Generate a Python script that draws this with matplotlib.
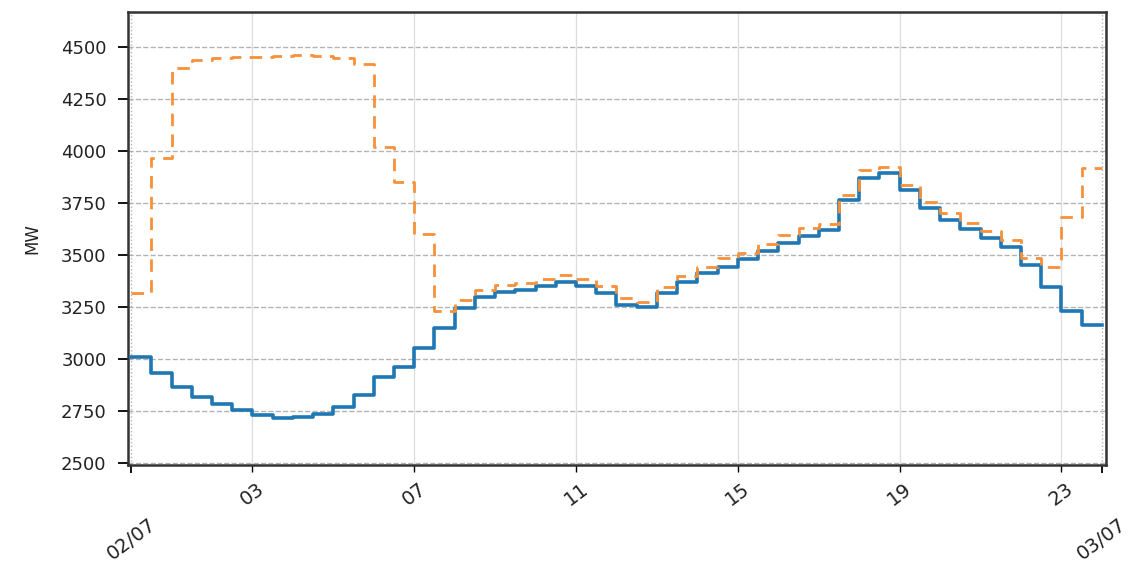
import numpy as np
import matplotlib
matplotlib.use("Agg")
import matplotlib.pyplot as plt
import matplotlib.dates as mdates
from datetime import datetime, timedelta

# Half-hourly load, 02/07 00:00 -> 23:30
start = datetime(2024, 7, 2, 0, 0)
n_steps = 48

actual_mw = [3010, 2934, 2867, 2819, 2784, 2752, 2731, 2715, 2723, 2734, 2771, 2827,
             2915, 2963, 3051, 3150, 3244, 3300, 3324, 3332, 3351, 3372, 3351, 3316,
             3260, 3248, 3316, 3372, 3412, 3444, 3479, 3520, 3556, 3591, 3620, 3764,
             3869, 3896, 3812, 3724, 3668, 3623, 3580, 3540, 3452, 3348, 3232, 3163]

forecast_mw = [3316, 3965, 4400, 4435, 4445, 4450, 4452, 4458, 4460, 4455, 4445, 4420,
               4020, 3850, 3600, 3230, 3284, 3332, 3356, 3364, 3383, 3404, 3383, 3351,
               3292, 3276, 3348, 3399, 3444, 3484, 3511, 3552, 3596, 3628, 3649, 3788,
               3909, 3925, 3837, 3756, 3700, 3655, 3617, 3572, 3484, 3444, 3684, 3917]

hour_ticks = [3, 7, 11, 15, 19, 23]
y_ticks = [2500, 2750, 3000, 3250, 3500, 3750, 4000, 4250, 4500]

times = [start + timedelta(minutes=30 * i) for i in range(n_steps + 1)]
actual_ext = actual_mw + [actual_mw[-1]]
forecast_ext = forecast_mw + [forecast_mw[-1]]

fig = plt.figure(figsize=(11.41, 5.65), dpi=100)
ax = fig.add_axes([0.1122, 0.177, 0.8571, 0.8018])

ax.step(times, actual_ext, where="post", color="#1f77b4", lw=2.6, zorder=3)
ax.step(times, forecast_ext, where="post", color="#f7913a", lw=2.0,
        linestyle=(0, (4.5, 3)), zorder=4)

x0 = mdates.date2num(start)
ax.set_xlim(x0 - 0.075 / 24, x0 + 1 + 0.1 / 24)
ax.set_ylim(2490, 4668)
ax.set_yticks(y_ticks)

ax.xaxis.set_major_locator(mdates.DayLocator())
ax.xaxis.set_major_formatter(mdates.DateFormatter("%d/%m"))
ax.xaxis.set_minor_locator(mdates.HourLocator(byhour=hour_ticks))
ax.xaxis.set_minor_formatter(mdates.DateFormatter("%H"))

ax.tick_params(axis="x", which="major", labelsize=14, pad=30, length=6,
               labelrotation=37, width=1.3, labelcolor="#222222")
ax.tick_params(axis="x", which="minor", labelsize=14, pad=5, length=5,
               labelrotation=37, width=1.0, labelcolor="#222222")
ax.tick_params(axis="y", labelsize=13, length=7.5, pad=8, width=1.3,
               labelcolor="#222222")
for lbl in ax.get_xticklabels(which="both"):
    lbl.set_ha("center")

ax.grid(True, which="major", axis="y", linestyle="--", color="#a0a0a0", lw=1.0, alpha=0.8)
ax.grid(True, which="major", axis="x", linestyle=":", color="#a0a0a0", lw=1.0, alpha=0.8)
ax.grid(True, which="minor", axis="x", linestyle="-", color="#dddddd", lw=0.9)

for sp in ax.spines.values():
    sp.set_linewidth(1.8)
    sp.set_color("#333333")

ax.set_ylabel("MW", fontsize=12, labelpad=14, color="#222222")

fig.savefig("out.png", dpi=100)
